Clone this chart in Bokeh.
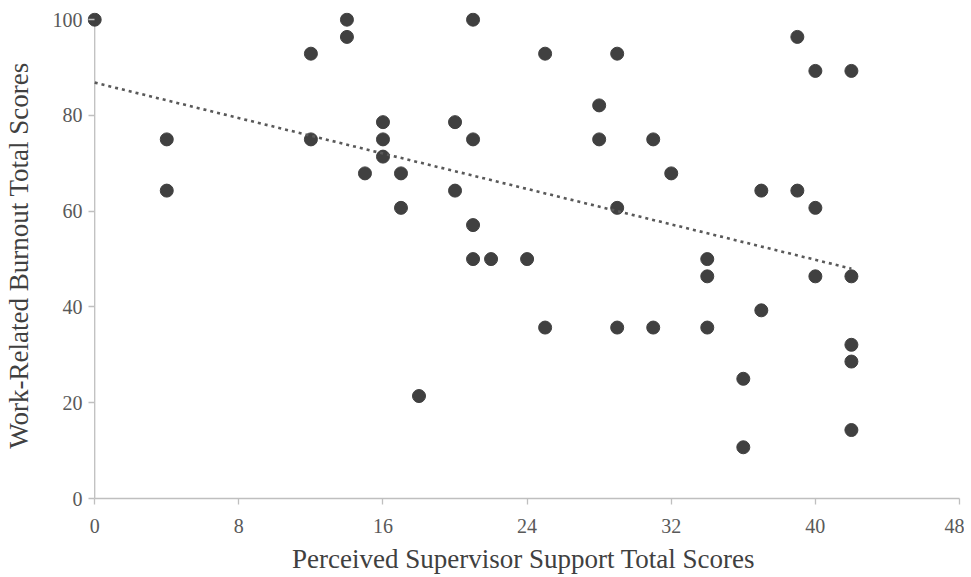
import numpy as np
from bokeh.plotting import figure
from bokeh.models import Range1d, FixedTicker, ColumnDataSource
from bokeh.embed import file_html
from bokeh.resources import INLINE

# Perceived Supervisor Support total scores
support = [0, 4, 4, 12, 12, 14, 14, 16, 16, 16, 15, 17, 17, 20, 20,
           21, 21, 21, 21, 22, 24, 25, 25, 29, 28, 28, 29, 29, 18,
           39, 40, 42, 31, 32, 37, 39, 40, 34, 34, 40, 42, 37, 31, 34,
           42, 42, 36, 42, 36]
# Work-Related Burnout total scores
burnout = [100, 75, 64.3, 92.9, 75, 100, 96.4, 78.6, 75, 71.4, 67.9, 67.9, 60.7, 78.6, 64.3,
           100, 75, 57.1, 50, 50, 50, 92.9, 35.7, 92.9, 82.1, 75, 60.7, 35.7, 21.4,
           96.4, 89.3, 89.3, 75, 67.9, 64.3, 64.3, 60.7, 50, 46.4, 46.4, 46.4, 39.3, 35.7, 35.7,
           32.1, 28.6, 25, 14.3, 10.7]

x_ticks = [0, 8, 16, 24, 32, 40, 48]
y_ticks = [0, 20, 40, 60, 80, 100]

x_title = "Perceived Supervisor Support Total Scores"
y_title = "Work-Related Burnout Total Scores"

FONT = "Liberation Serif"
AXIS_GREY = "#bfbfbf"

p = figure(width=964, height=576, output_backend="svg", toolbar_location=None,
           x_range=Range1d(-0.4, 48), y_range=Range1d(0, 101.5),
           min_border_left=86, min_border_right=5, min_border_top=12, min_border_bottom=78)
p.outline_line_color = None
p.grid.grid_line_color = None
p.background_fill_color = "white"

# y-axis line drawn at x = 0
p.segment(x0=[x_ticks[0]], y0=[y_ticks[0]], x1=[x_ticks[0]], y1=[y_ticks[-1]],
          line_color=AXIS_GREY, line_width=1.3)

src = ColumnDataSource(dict(x=support, y=burnout))
p.scatter("x", "y", source=src, size=13, color="#404040", line_color="#404040")

# linear trendline (OLS)
slope, intercept = np.polyfit(np.array(support, float), np.array(burnout, float), 1)
xs = [min(support), max(support)]
ys = [intercept + slope * v for v in xs]
p.line(xs, ys, line_color="#595959", line_width=2.6, line_dash="3 4")

for ax in (p.xaxis[0], p.yaxis[0]):
    ax.axis_line_color = AXIS_GREY
    ax.axis_line_width = 1.3
    ax.major_tick_line_color = AXIS_GREY
    ax.major_tick_line_width = 1.3
    ax.minor_tick_line_color = None
    ax.major_label_text_font = FONT
    ax.major_label_text_font_size = "20px"
    ax.major_label_text_color = "#595959"
    ax.axis_label_text_font = FONT
    ax.axis_label_text_font_size = "27px"
    ax.axis_label_text_color = "#404040"
    ax.axis_label_text_font_style = "normal"

p.xaxis.ticker = FixedTicker(ticks=x_ticks)
p.yaxis.ticker = FixedTicker(ticks=y_ticks)
p.xaxis.bounds = (0, 48)
p.xaxis.major_tick_out = 6
p.xaxis.major_tick_in = 0
p.yaxis.axis_line_color = None
p.yaxis.major_tick_in = 7
p.yaxis.major_tick_out = -1
p.xaxis.axis_label = x_title
p.yaxis.axis_label = y_title
p.xaxis.major_label_standoff = 14
p.yaxis.major_label_standoff = 5
p.xaxis.axis_label_standoff = 8
p.yaxis.axis_label_standoff = 16

open("out.html", "w").write(file_html(p, INLINE))
